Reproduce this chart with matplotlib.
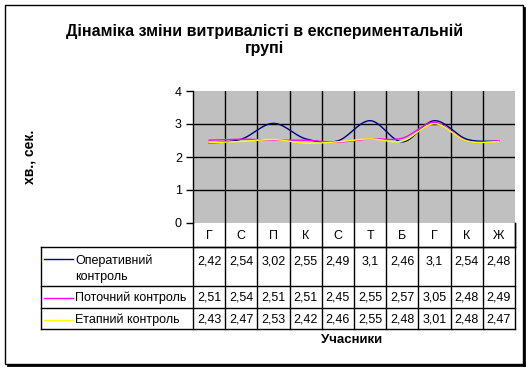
import matplotlib.pyplot as plt
import numpy as np

plt.rcParams['font.family'] = ['Liberation Sans', 'DejaVu Sans']

categories = ['Г', 'С', 'П', 'К', 'С', 'Т', 'Б', 'Г', 'К', 'Ж']
operative = [2.42, 2.54, 3.02, 2.55, 2.49, 3.1, 2.46, 3.1, 2.54, 2.48]
current = [2.51, 2.54, 2.51, 2.51, 2.45, 2.55, 2.57, 3.05, 2.48, 2.49]
stage = [2.43, 2.47, 2.53, 2.42, 2.46, 2.55, 2.48, 3.01, 2.48, 2.47]
labels_ua = ['Оперативний\nконтроль', 'Поточний контроль', 'Етапний контроль']
tick_labels = ['0', '1', '2', '3', '4']

series = [operative, current, stage]
colors = ['#000080', '#FF00FF', '#FFFF00']

W, H = 531, 370


def smooth(xs, ys, n=30):
    # Excel-like smoothing: Catmull-Rom through the points
    px = np.concatenate([[xs[0]], xs, [xs[-1]]])
    py = np.concatenate([[ys[0]], ys, [ys[-1]]])
    out_x, out_y = [], []
    t = np.linspace(0, 1, n)
    for i in range(1, len(px) - 2):
        for arr, out in ((px, out_x), (py, out_y)):
            p0, p1, p2, p3 = arr[i - 1], arr[i], arr[i + 1], arr[i + 2]
            c1 = p1 + (p2 - p0) / 6
            c2 = p2 - (p3 - p1) / 6
            out.extend((1 - t) ** 3 * p1 + 3 * (1 - t) ** 2 * t * c1
                       + 3 * (1 - t) * t ** 2 * c2 + t ** 3 * p2)
    return np.array(out_x), np.array(out_y)


fig = plt.figure(figsize=(W / 100, H / 100), dpi=100)

# pixel geometry
L, R, T, B = 193, 515, 91, 223
ax = fig.add_axes([L / W, 1 - B / H, (R - L) / W, (B - T) / H])
ax.set_facecolor('#C0C0C0')
ax.set_xlim(0, len(categories))
ax.set_ylim(0, 4)
for k in range(1, len(categories)):
    ax.axvline(k, color='black', lw=1)
for k in range(1, 4):
    ax.axhline(k, color='black', lw=1)
for s in ['top', 'right', 'bottom']:
    ax.spines[s].set_visible(False)
ax.spines['left'].set_linewidth(1)
ax.set_xticks([])
ax.set_yticks(range(5))
ax.set_yticklabels(tick_labels, fontsize=9)
ax.tick_params(axis='y', length=5, width=1, pad=3)

xs = np.arange(len(categories)) + 0.5
for ys, c in zip(series, colors):
    sx, sy = smooth(xs, np.array(ys))
    ax.plot(sx, sy, color=c, lw=1)

# overlay in pixel coordinates for frame, table and texts
top = fig.add_axes([0, 0, 1, 1])
top.set_xlim(0, W)
top.set_ylim(H, 0)
top.axis('off')
top.patch.set_alpha(0)

# outer frame with a shadow on the right and bottom
top.add_patch(plt.Rectangle((5, 5), 518, 359, fill=False, ec='black', lw=1))
top.plot([524, 524], [8, 365], color='black', lw=2)
top.plot([8, 524], [365, 365], color='black', lw=2)

col_w = (R - L) / len(categories)
cat_top, cat_bot = B, 247
rows = [247, 286, 308, 329]
tab_left = 41
lk = dict(color='black', lw=1)

# category row
top.plot([L, R], [cat_bot, cat_bot], **lk)
top.plot([R, R], [cat_top, cat_bot], **lk)
for k in range(len(categories) + 1):
    x = L + k * col_w
    top.plot([x, x], [cat_top, rows[-1]], **lk)
for k, c in enumerate(categories):
    top.text(L + (k + 0.5) * col_w, (cat_top + cat_bot) / 2 + 1, c,
             ha='center', va='center', fontsize=9)

# value rows
for y in rows:
    top.plot([tab_left, R], [y, y], **lk)
top.plot([tab_left, tab_left], [rows[0], rows[-1]], **lk)

for r, (ys, c, lab) in enumerate(zip(series, colors, labels_ua)):
    y0, y1 = rows[r], rows[r + 1]
    if r == 0:
        first, second = lab.split('\n')
        top.text(75, 264, first, ha='left', va='baseline', fontsize=9)
        top.text(75, 280, second, ha='left', va='baseline', fontsize=9)
        ly, base = 259, 264
    else:
        ly = (y0 + y1) / 2 + 1
        base = (y0 + y1) / 2 + 4
        top.text(75, base, lab, ha='left', va='baseline', fontsize=9)
    top.plot([44, 73], [ly, ly], color=c, lw=1)
    for k, v in enumerate(ys):
        s = ('%g' % v).replace('.', ',')
        top.text(L + (k + 0.5) * col_w, base, s, ha='center', va='baseline',
                 fontsize=9)

top.text(265, 36, 'Дінаміка зміни витривалісті в експериментальній',
         ha='center', va='baseline', fontsize=11.5, fontweight='bold')
top.text(265, 53, 'групі', ha='center', va='baseline', fontsize=11.5,
         fontweight='bold')
top.text(29, 157, 'хв., сек.', ha='center', va='center', rotation=90,
         fontsize=10, fontweight='bold')
top.text(352, 340, 'Учасники', ha='center', va='center', fontsize=9.5,
         fontweight='bold')

fig.savefig('out.png', dpi=100)
